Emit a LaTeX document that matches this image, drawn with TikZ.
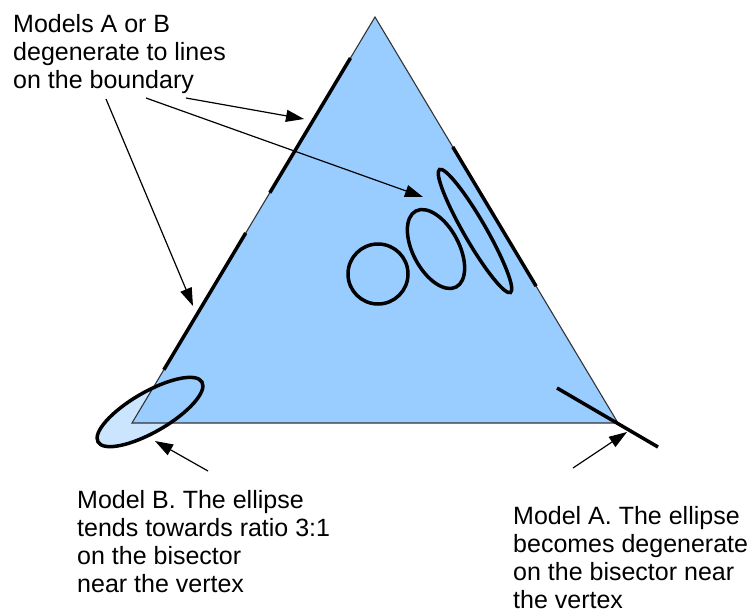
\documentclass[tikz,border=0pt]{standalone}
\usepackage{fontspec}
\setmainfont{Liberation Sans}
\usetikzlibrary{arrows.meta, calc, positioning}
\definecolor{triblue}{RGB}{153,204,255}
\definecolor{paleblue}{RGB}{204,229,255}
\definecolor{edgegray}{RGB}{52,52,52}
\tikzset{
  note/.style={anchor=base west, align=left, inner sep=0pt,
    font=\fontsize{25}{28}\selectfont},
  pointer/.style={-{Triangle[length=18pt, width=12pt]}, line width=1.2pt, color=black},
  degen/.style={line width=3.5pt, color=black},
  ring/.style={line width=3.5pt, draw=black}
}

\begin{document}
\begin{tikzpicture}[x=1pt, y=-1pt]
  \useasboundingbox (0,0) rectangle (753,614);

  % ── Triangle corners and ellipse centres ────────────────────────────────
  \coordinate (apex)  at (375,17);
  \coordinate (baseL) at (132,423);
  \coordinate (baseR) at (618,423);
  \coordinate (ctrB)    at (150,412);
  \coordinate (ctrRound) at (378,274);
  \coordinate (ctrMid)   at (436,249);
  \coordinate (ctrThin)  at (475,231);

  % ── Model B ellipse fill (behind the triangle) ───────────────────────────
  \fill[paleblue, rotate around={30:(ctrB)}] (ctrB) ellipse [x radius=60, y radius=20];

  % ── Triangle ─────────────────────────────────────────────────────────────
  \filldraw[fill=triblue, draw=edgegray, line width=1.1pt] (apex) -- (baseL) -- (baseR) -- cycle;

  % ── Degenerate lines on the boundary ─────────────────────────────────────
  \draw[degen] ($(apex)!0.101!(baseL)$) -- ($(apex)!0.433!(baseL)$);
  \draw[degen] ($(apex)!0.532!(baseL)$) -- ($(apex)!0.869!(baseL)$);
  \draw[degen] ($(apex)!0.320!(baseR)$) -- ($(apex)!0.663!(baseR)$);

  % ── Model A: degenerate line on the bisector ─────────────────────────────
  \coordinate (bisIn)  at (557,388);
  \coordinate (bisOut) at (658,447);
  \draw[degen] (bisIn) -- (bisOut);

  % ── Ellipses ─────────────────────────────────────────────────────────────
  \draw[ring, rotate around={30:(ctrB)}] (ctrB) ellipse [x radius=60, y radius=20];
  \draw[ring] (ctrRound) circle [radius=30];
  \draw[ring, rotate around={118:(ctrMid)}] (ctrMid) ellipse [x radius=43, y radius=23];
  \draw[ring, rotate around={120:(ctrThin)}] (ctrThin) ellipse [x radius=71, y radius=11];

  % ── Labels (anchored on the last baseline) ───────────────────────────────
  \node[note] (txtBoundary) at (13,88) {Models A or B\\degenerate to lines\\on the boundary};
  \node[note] (txtModelB) at (77,592) {Model B. The ellipse\\tends towards ratio 3:1\\on the bisector\\near the vertex};
  \node[note] (txtModelA) at (513,608) {Model A. The ellipse\\becomes degenerate\\on the bisector near\\the vertex};

  % ── Pointers ─────────────────────────────────────────────────────────────
  \coordinate (tailEdge)  at (186,98);  \coordinate (tipEdge)  at (304,119);
  \coordinate (tailInner) at (146,98);  \coordinate (tipInner) at (423,197);
  \coordinate (tailLow)   at (106,99);  \coordinate (tipLow)   at (193,306);
  \coordinate (tailB)     at (208,471); \coordinate (tipB)     at (155,441);
  \coordinate (tailA)     at (573,468); \coordinate (tipA)     at (627,432);
  \draw[pointer] (tailEdge) -- (tipEdge);
  \draw[pointer] (tailInner) -- (tipInner);
  \draw[pointer] (tailLow) -- (tipLow);
  \draw[pointer] (tailB) -- (tipB);
  \draw[pointer] (tailA) -- (tipA);
\end{tikzpicture}
\end{document}
